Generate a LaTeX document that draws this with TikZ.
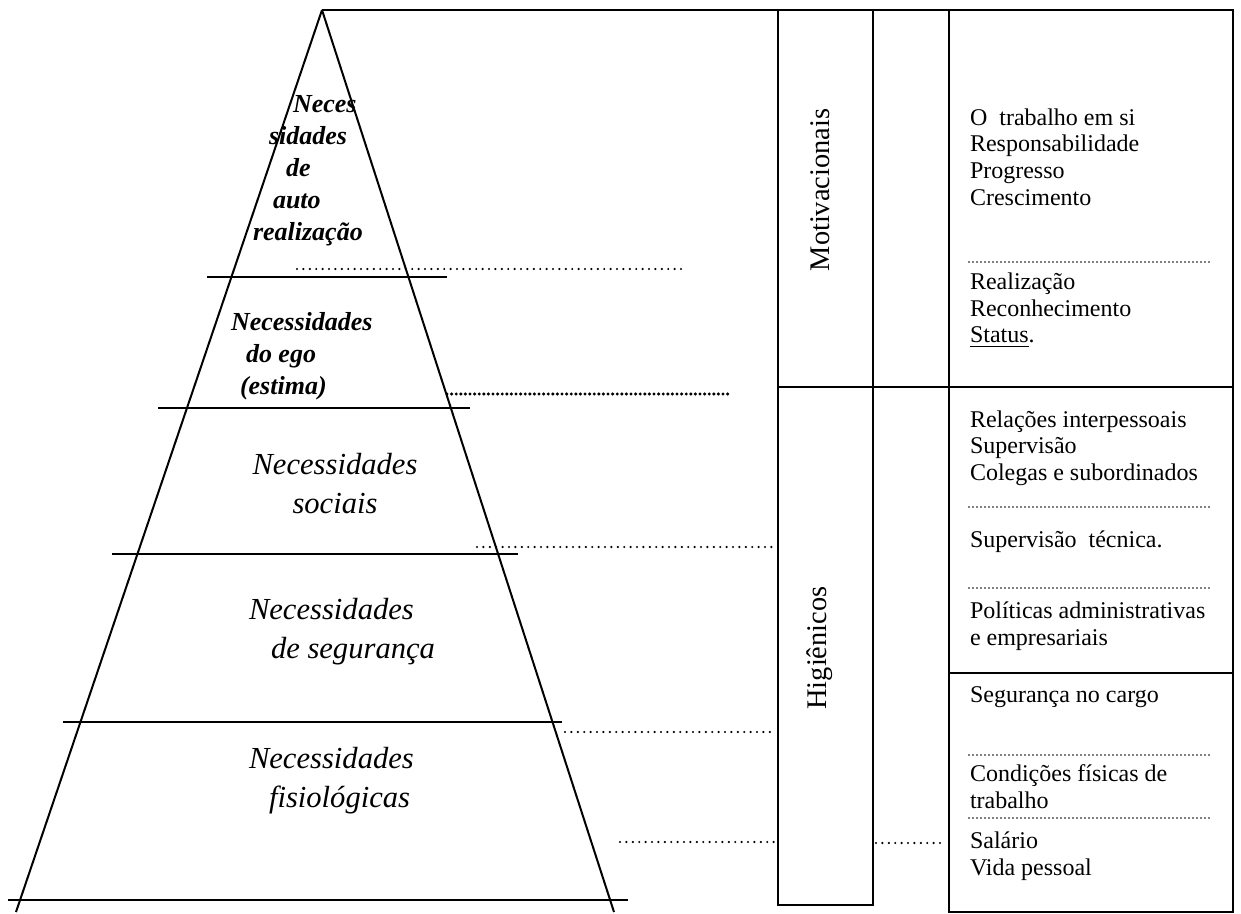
\documentclass[tikz,border=0pt]{standalone}
\usepackage{fontspec}
\setmainfont{Liberation Serif}
\usepackage{tikz}

\begin{document}
\begin{tikzpicture}[x=0.5pt,y=-0.5pt,
                    every path/.style={line width=1pt},
                    toplevel/.style={font=\fontsize{13}{16}\selectfont\bfseries\itshape,
                                     align=left, anchor=west, inner sep=0pt},
                    level/.style={font=\fontsize{15.3}{19.5}\selectfont\itshape,
                                  align=left, anchor=west, inner sep=0pt},
                    factor/.style={font=\fontsize{12}{13.35}\selectfont,
                                   align=left, anchor=west, inner sep=0pt},
                    group/.style={font=\fontsize{14.2}{16}\selectfont, rotate=90, inner sep=0pt},
                    link/.style={line width=1.2pt, line cap=round, dash pattern=on 0pt off 3.2pt},
                    heavylink/.style={line width=1.7pt, line cap=round, dash pattern=on 0pt off 2.3pt},
                    sep/.style={line width=0.85pt, line cap=round, dash pattern=on 0pt off 2pt}]
\useasboundingbox (0,0) rectangle (1241,914);

% pyramid
\coordinate (apex) at (322,10);
\draw (apex) -- (16,912);
\draw (apex) -- (614,912);
\draw (207,277) -- (447,277);
\draw (158,408) -- (470,408);
\draw (112,554) -- (518,554);
\draw (63,722) -- (562,722);
\draw (8,900) -- (628,900);

% table
\coordinate (tl) at (778,10);
\coordinate (tr) at (1233,10);
\draw (apex) -- (tr) -- (1233,912) -- (949,912) -- (949,10);
\draw (tl) -- (778,905) -- (873,905) -- (873,10);
\draw (778,387) -- (1233,387);
\draw (949,673) -- (1233,673);

% level labels
\node[toplevel] (autoreal) at (252,171) {\hspace*{20pt}Neces\\\hspace*{8pt}sidades\\
  \hspace*{16.5pt}de\\\hspace*{10pt}auto\\realização};
\node[toplevel] (ego) at (230,356) {Necessidades\\\hspace*{7.5pt}do ego\\\hspace*{4.5pt}(estima)};
\node[level, align=center, anchor=center] (sociais) at (335,484) {Necessidades\\sociais};
\node[level] (seguranca) at (248,632) {Necessidades\\\hspace*{11pt}de segurança};
\node[level] (fisio) at (248,781) {Necessidades\\\hspace*{10pt}fisiológicas};

% groups
\node[group] (motiv) at (820,190) {Motivacionais};
\node[group] (higien) at (820,648) {Higiênicos};

% factors
\node[factor] (f1) at (969,157) {O\ \ trabalho em si\\Responsabilidade\\Progresso\\Crescimento};
\node[factor] (f2) at (969,310) {Realização\\Reconhecimento\\\underline{Status}.};
\node[factor] (f3) at (969,448) {Relações interpessoais\\Supervisão\\Colegas e subordinados};
\node[factor] (f4) at (969,542) {Supervisão\ \ técnica.};
\node[factor] (f5) at (969,626) {Políticas administrativas\\e empresariais};
\node[factor] (f6) at (969,697) {Segurança no cargo};
\node[factor] (f7) at (969,787) {Condições físicas de\\trabalho};
\node[factor] (f8) at (969,856) {Salário\\Vida pessoal};

\foreach \y in {262,507,588,755,818}
  \draw[sep] (969,\y) -- (1212,\y);

% links
\draw[link] (297,269) -- (685,269);
\draw[heavylink] (447,394) -- (730,394);
\draw[link] (477,547) -- (776,547);
\draw[link] (565,732) -- (776,732);
\draw[link] (620,842) -- (776,842);
\draw[link] (876,843) -- (946,843);
\end{tikzpicture}
\end{document}
